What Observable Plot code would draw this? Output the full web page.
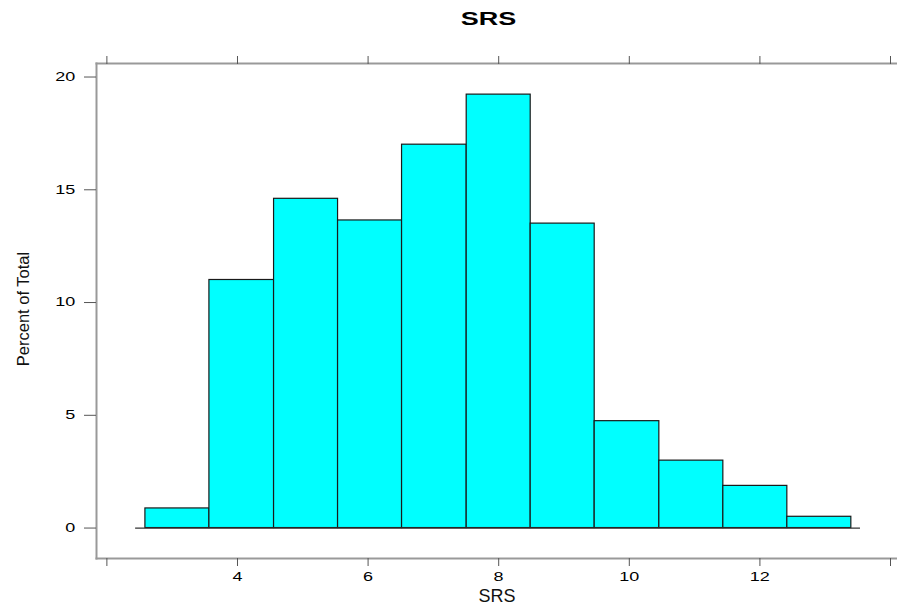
<!DOCTYPE html>
<html>
<head>
<meta charset="utf-8">
<script src="https://cdn.jsdelivr.net/npm/d3@7"></script>
<script src="https://cdn.jsdelivr.net/npm/@observablehq/plot@0.6"></script>
<style>
  html, body { margin: 0; padding: 0; background: #fff; overflow: hidden; }
  #title { width: 897px; height: 36px; box-sizing: border-box; padding-left: 81px; text-align: center;
           font: bold 19px "Liberation Sans", Arial, sans-serif; line-height: 37px; color: #000; }
  #title span { display: inline-block; transform: scaleX(1.42); transform-origin: 50% 50%; }
  svg { display: block; }
</style>
</head>
<body>
<div id="title"><span>SRS</span></div>
<div id="chart"></div>
<script>
const binEdges = [2.59, 3.57, 4.56, 5.54, 6.52, 7.51, 8.49, 9.47, 10.46, 11.44, 12.42, 13.40];
const percents = [0.87, 11.0, 14.6, 13.64, 17.0, 19.22, 13.5, 4.74, 2.99, 1.87, 0.50];
const xTicks = [2, 4, 6, 8, 10, 12, 14];
const xTickLabels = ["", "4", "6", "8", "10", "12", ""];
const yTicks = [0, 5, 10, 15, 20];
const xLabel = "SRS";
const yLabel = "Percent of Total";

const bins = percents.map((p, i) => ({x1: binEdges[i], x2: binEdges[i + 1], y: p}));
const xLabelOf = new Map(xTicks.map((t, i) => [t, xTickLabels[i]]));
const font = "Liberation Sans, Arial, sans-serif";

const plot = Plot.plot({
  width: 897,
  height: 579,
  marginTop: 27,
  marginBottom: 57,
  marginLeft: 96,
  marginRight: 0,
  style: {fontFamily: font, fontSize: "12px", color: "#000", background: "#fff"},
  x: {domain: [1.841, 14.107], axis: null},
  y: {domain: [-1.35, 20.6], axis: null},
  marks: [
    Plot.rectY(bins, {x1: "x1", x2: "x2", y: "y", fill: "#00FFFF", stroke: "#1a1a1a", strokeWidth: 1.2}),
    Plot.ruleY([0], {x1: binEdges[0] - 0.15, x2: binEdges[binEdges.length - 1] + 0.14, stroke: "#333", strokeWidth: 1.2}),
    Plot.frame({anchor: "left", stroke: "#999", strokeWidth: 2}),
    Plot.frame({anchor: "top", stroke: "#999", strokeWidth: 2}),
    Plot.frame({anchor: "bottom", stroke: "#999", strokeWidth: 2}),
    Plot.axisY({ticks: yTicks, anchor: "left", tickSize: 12, tickPadding: 9, label: null, stroke: "#555",
                fontSize: 12, ariaLabel: "ytick"}),
    Plot.axisX({ticks: xTicks, anchor: "bottom", tickSize: 8, tickPadding: 6, label: null, stroke: "#555",
                tickFormat: d => xLabelOf.get(d), fontSize: 12, ariaLabel: "xtick"}),
    Plot.axisX({ticks: xTicks, anchor: "top", tickSize: 8, label: null, stroke: "#555", tickFormat: () => ""}),
    Plot.text([xLabel], {frameAnchor: "bottom", text: d => d, dy: 43, fontSize: 18, fill: "#111", ariaLabel: "xlabel"}),
    Plot.text([yLabel], {frameAnchor: "left", text: d => d, rotate: -90, dx: -73, dy: -2, fontSize: 16.5, fill: "#111",
                          textAnchor: "middle", lineAnchor: "middle", ariaLabel: "ylabel"})
  ]
});
document.getElementById("chart").appendChild(plot);

// Horizontal stretch of the text glyphs, as in the reference rendering
const stretch = {"xtick": 1.5, "ytick": 1.5, "xlabel": 1.28, "ylabel": 1.3};
const svg = plot.tagName.toLowerCase() === "svg" ? plot : plot.querySelector("svg");
svg.querySelectorAll("text").forEach(t => {
  let g = t.parentNode, key = null;
  while (g && g !== svg) {
    const a = g.getAttribute && g.getAttribute("aria-label");
    if (a && stretch[a] !== undefined) { key = a; break; }
    if (a && a.startsWith("ytick")) { key = "ytick"; break; }
    if (a && a.startsWith("xtick")) { key = "xtick"; break; }
    g = g.parentNode;
  }
  if (!key || !t.textContent) return;
  const s = stretch[key];
  const b = t.getBBox();
  const anchor = getComputedStyle(t).textAnchor;
  let px = anchor === "end" ? b.x + b.width : anchor === "start" ? b.x : b.x + b.width / 2;
  let py = b.y + b.height / 2;
  const tl = t.transform.baseVal.consolidate();
  if (tl) {
    const p = svg.createSVGPoint(); p.x = px; p.y = py;
    const q = p.matrixTransform(tl.matrix); px = q.x; py = q.y;
  }
  const w = document.createElementNS("http://www.w3.org/2000/svg", "g");
  w.setAttribute("transform", `translate(${px},${py}) scale(${s},1) translate(${-px},${-py})`);
  t.parentNode.insertBefore(w, t);
  w.appendChild(t);
});
</script>
</body>
</html>
